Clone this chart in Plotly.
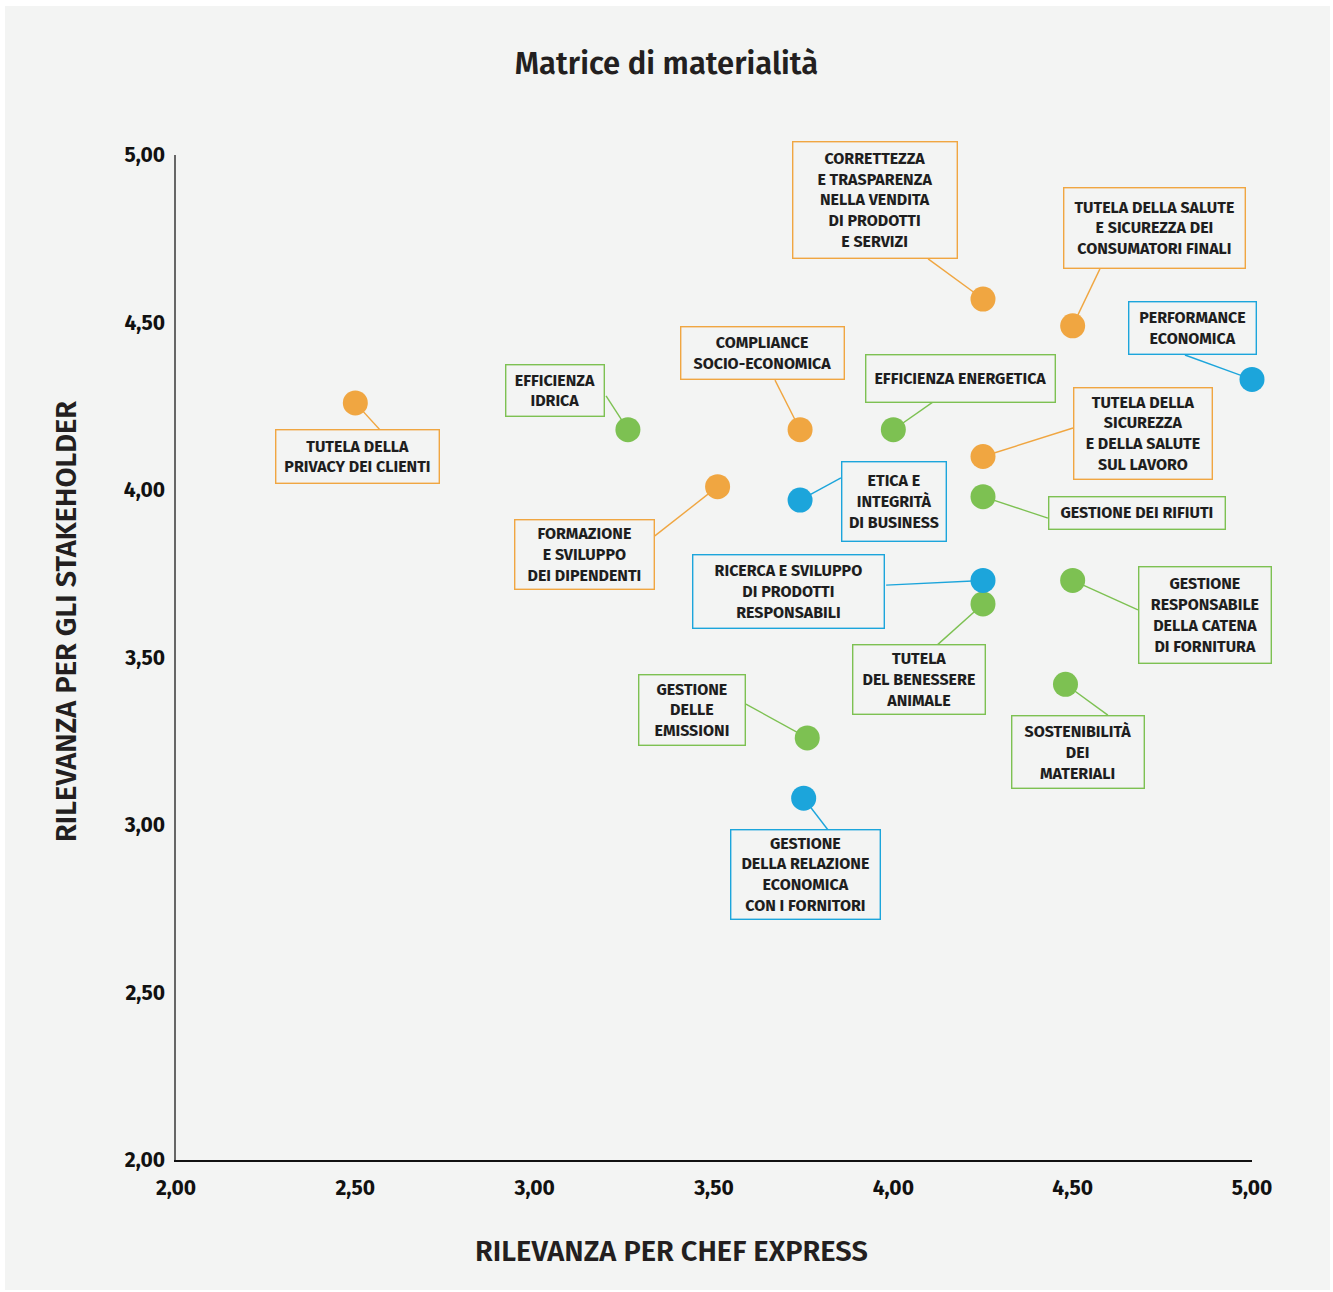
import plotly.graph_objects as go

# Material topics: label, relevance for Chef Express, relevance for stakeholders, area
topics = [
    "TUTELA DELLA<br>PRIVACY DEI CLIENTI",
    "EFFICIENZA<br>IDRICA",
    "COMPLIANCE<br>SOCIO-ECONOMICA",
    "EFFICIENZA ENERGETICA",
    "CORRETTEZZA<br>E TRASPARENZA<br>NELLA VENDITA<br>DI PRODOTTI<br>E SERVIZI",
    "TUTELA DELLA SALUTE<br>E SICUREZZA DEI<br>CONSUMATORI FINALI",
    "PERFORMANCE<br>ECONOMICA",
    "TUTELA DELLA<br>SICUREZZA<br>E DELLA SALUTE<br>SUL LAVORO",
    "FORMAZIONE<br>E SVILUPPO<br>DEI DIPENDENTI",
    "ETICA E<br>INTEGRITÀ<br>DI BUSINESS",
    "GESTIONE DEI RIFIUTI",
    "RICERCA E SVILUPPO<br>DI PRODOTTI<br>RESPONSABILI",
    "GESTIONE<br>RESPONSABILE<br>DELLA CATENA<br>DI FORNITURA",
    "TUTELA<br>DEL BENESSERE<br>ANIMALE",
    "SOSTENIBILITÀ<br>DEI<br>MATERIALI",
    "GESTIONE<br>DELLE<br>EMISSIONI",
    "GESTIONE<br>DELLA RELAZIONE<br>ECONOMICA<br>CON I FORNITORI",
]
rel_chef = [2.50, 3.26, 3.74, 4.00, 4.25, 4.50, 5.00, 4.25, 3.51, 3.74,
            4.25, 4.25, 4.50, 4.25, 4.48, 3.76, 3.75]
rel_stake = [4.26, 4.18, 4.18, 4.18, 4.57, 4.49, 4.33, 4.10, 4.01, 3.97,
             3.98, 3.73, 3.73, 3.66, 3.42, 3.26, 3.08]
area = ["soc", "env", "soc", "env", "soc", "soc", "eco", "soc", "soc", "eco",
        "env", "eco", "env", "env", "env", "env", "eco"]

x_ticks = [2.0, 2.5, 3.0, 3.5, 4.0, 4.5, 5.0]
y_ticks = [2.0, 2.5, 3.0, 3.5, 4.0, 4.5, 5.0]

# Label box centres (data units) and box sizes (px)
label_x = [2.505, 3.057, 3.636, 4.186, 3.949, 4.729, 4.835, 4.696, 3.140, 4.002,
           4.679, 3.709, 4.869, 4.071, 4.515, 3.439, 3.754]
label_y = [4.099, 4.296, 4.409, 4.334, 4.866, 4.782, 4.484, 4.170, 3.806, 3.967,
           3.931, 3.696, 3.627, 3.433, 3.218, 3.343, 2.851]
box_w = [165, 100, 165, 191, 166, 183, 129, 140, 141, 106, 178, 193, 134, 134, 134, 108, 151]
box_h = [55, 53, 54, 49, 118, 82, 54, 93, 71, 81, 34, 75, 98, 71, 74, 72, 91]

# Where each leader line leaves its label box (data units)
anchor_x = [2.569, 3.199, 3.670, 4.111, 4.097, 4.576, 4.813, 4.501, 3.335, 3.854,
            4.431, 3.980, 4.682, 4.122, 4.598, 3.589, 3.818]
anchor_y = [4.179, 4.281, 4.328, 4.263, 4.690, 4.660, 4.403, 4.185, 3.863, 4.036,
            3.916, 3.716, 3.642, 3.537, 3.328, 3.361, 2.985]

palette = {"soc": "#F0A641", "env": "#7DC152", "eco": "#1CA5DB"}
bg = "#F3F4F3"
font_family = "Fira Sans, Roboto, Open Sans, sans-serif"

fig = go.Figure()

# Leader lines first, so the dots sit on top of them
for key in ["soc", "env", "eco"]:
    lx, ly = [], []
    for i, a in enumerate(area):
        if a == key:
            lx += [anchor_x[i], rel_chef[i], None]
            ly += [anchor_y[i], rel_stake[i], None]
    fig.add_trace(go.Scatter(
        x=lx, y=ly, mode="lines",
        line=dict(color=palette[key], width=1.4),
        cliponaxis=False, hoverinfo="skip", showlegend=False,
    ))

for key in ["soc", "env", "eco"]:
    idx = [i for i, a in enumerate(area) if a == key]
    fig.add_trace(go.Scatter(
        x=[rel_chef[i] for i in idx],
        y=[rel_stake[i] for i in idx],
        mode="markers",
        marker=dict(size=25, color=palette[key], line=dict(width=0)),
        cliponaxis=False,
        hoverinfo="skip",
        showlegend=False,
    ))

annotations = []
for i, txt in enumerate(topics):
    col = palette[area[i]]
    annotations.append(dict(
        x=label_x[i], y=label_y[i], xref="x", yref="y",
        text=txt, showarrow=False,
        bordercolor=col, borderwidth=1.4, borderpad=0,
        bgcolor=bg, width=box_w[i] - 3, height=box_h[i] - 3,
        align="center", valign="middle",
        font=dict(family=font_family, size=16, color="#1E1E1E", weight="bold"),
    ))

# Axis titles, centred on the page
annotations.append(dict(
    text="RILEVANZA PER CHEF EXPRESS", xref="paper", yref="paper",
    x=(671 - 176) / 1076, y=(1160 - 1251) / 1005, showarrow=False,
    xanchor="center", yanchor="middle",
    font=dict(family=font_family, size=29, color="#231F20", weight=600),
))
annotations.append(dict(
    text="RILEVANZA PER GLI STAKEHOLDER", xref="paper", yref="paper",
    x=(66 - 176) / 1076, y=(1160 - 622) / 1005, showarrow=False,
    textangle=-90, xanchor="center", yanchor="middle",
    font=dict(family=font_family, size=29, color="#231F20", weight=600),
))

fig.update_layout(
    width=1333, height=1292,
    margin=dict(l=176, r=81, t=155, b=132),
    paper_bgcolor="#FFFFFF", plot_bgcolor=bg,
    separators=",.",
    title=dict(text="Matrice di materialità", x=0.5, xref="container",
               y=1 - 63 / 1292, yref="container", yanchor="middle",
               font=dict(family=font_family, size=31, color="#231F20", weight=600)),
    xaxis=dict(range=[2, 5], tickvals=x_ticks, tickformat=".2f",
               showgrid=False, zeroline=False, showline=True, linecolor="#111111",
               linewidth=1.5, ticks="", ticklabelstandoff=8,
               tickfont=dict(family=font_family, size=21, color="#111111", weight="bold")),
    yaxis=dict(range=[2, 5], tickvals=y_ticks, tickformat=".2f",
               showgrid=False, zeroline=False, showline=True, linecolor="#666666",
               linewidth=1.5, ticks="", ticklabelstandoff=5,
               tickfont=dict(family=font_family, size=21, color="#111111", weight="bold")),
    annotations=annotations,
    shapes=[dict(type="rect", xref="paper", yref="paper", layer="below",
                 x0=(5 - 176) / 1076, x1=(1330 - 176) / 1076,
                 y0=(1160 - 1290) / 1005, y1=(1160 - 6) / 1005,
                 fillcolor=bg, line=dict(width=0))],
)

fig.write_html("out.html")
